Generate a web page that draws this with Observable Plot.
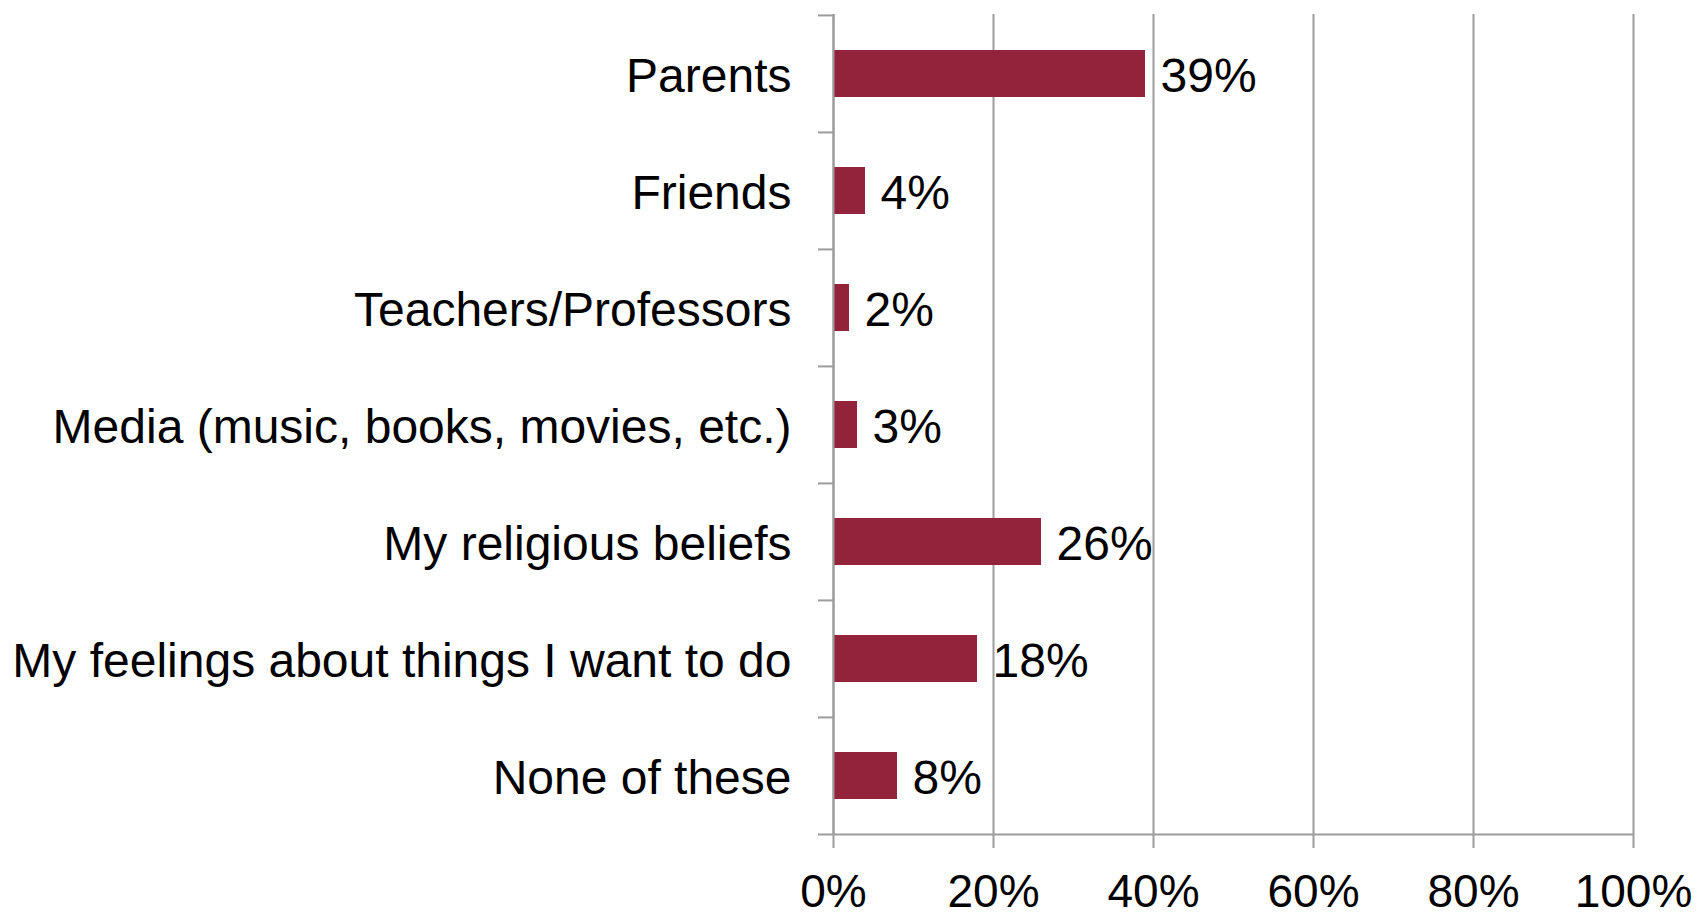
<!DOCTYPE html>
<html>
<head>
<meta charset="utf-8">
<script src="https://cdn.jsdelivr.net/npm/d3@7"></script>
<script src="https://cdn.jsdelivr.net/npm/@observablehq/plot@0.6"></script>
<style>
  html, body { margin: 0; padding: 0; background: #ffffff; }
  #chart svg { display: block; }
</style>
</head>
<body>
<div id="chart"></div>
<script>
const categories = [
  "Parents",
  "Friends",
  "Teachers/Professors",
  "Media (music, books, movies, etc.)",
  "My religious beliefs",
  "My feelings about things I want to do",
  "None of these"
];
const values = [39, 4, 2, 3, 26, 18, 8];
const xTicks = [0, 20, 40, 60, 80, 100];

const data = categories.map((c, i) => ({category: c, value: values[i]}));

const W = 1698, H = 917;
const marginTop = 14, marginBottom = 83, marginLeft = 833, marginRight = 65;
const step = (H - marginTop - marginBottom) / categories.length;
const gray = "#9c9c9c";
const font = "'Liberation Sans', Arial, Helvetica, sans-serif";

const chart = Plot.plot({
  width: W,
  height: H,
  marginTop, marginBottom, marginLeft, marginRight,
  style: {fontFamily: font, background: "#ffffff", color: "#000000"},
  x: {domain: [0, 100]},
  y: {domain: categories, paddingInner: 0.6, paddingOuter: 0.3},
  marks: [
    Plot.gridX(xTicks, {stroke: gray, strokeOpacity: 1, strokeWidth: 2}),
    Plot.barX(data, {x: "value", y: "category", fill: "#93233a"}),
    Plot.ruleX([0], {stroke: gray, strokeWidth: 2}),
    Plot.ruleY(categories, {y: d => d, dy: -step / 2, x1: 0, x2: 0, insetLeft: -15, stroke: gray, strokeWidth: 2}),
    Plot.ruleY(categories.slice(-1), {y: d => d, dy: step / 2, x1: 0, x2: 100, insetLeft: -15, stroke: gray, strokeWidth: 2}),
    Plot.axisX({ticks: xTicks, tickFormat: d => d + "%", tickSize: 14, tickPadding: 26, fontSize: 46, stroke: gray, strokeWidth: 2, fill: "#000000", label: null}),
    Plot.axisY({tickSize: 0, tickPadding: 42, fontSize: 48, dy: 2.5, fill: "#000000", label: null}),
    Plot.text(data, {x: "value", y: "category", text: d => d.value + "%", textAnchor: "start", dx: 15, dy: 2.5, fontSize: 48, fill: "#000000"})
  ]
});
document.getElementById("chart").appendChild(chart);
</script>
</body>
</html>
